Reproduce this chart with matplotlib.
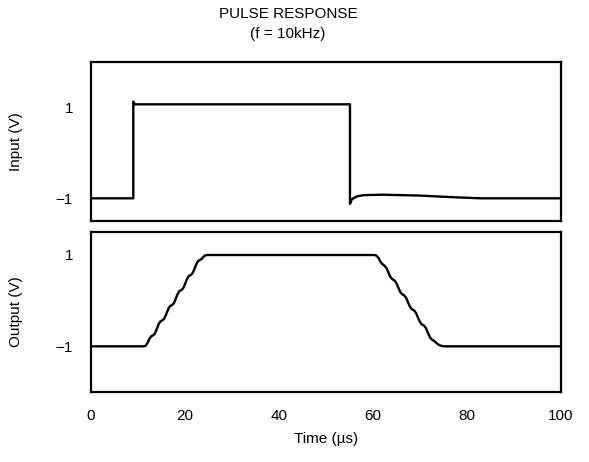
import matplotlib.pyplot as plt

plt.rcParams['font.family'] = ['Liberation Sans', 'DejaVu Sans']

# input pulse (time in us, volts)
t_in = [0, 9.0, 9.0, 9.3, 55.1, 55.1, 55.5, 56.5, 58, 62, 70, 78, 83, 100]
v_in = [-1, -1, 1.13, 1.07, 1.07, -1.12, -1.02, -0.96, -0.93, -0.92, -0.94, -0.98, -1.0, -1.0]

# output response
t_out = [0, 11.0, 11.6, 12.0, 12.4, 12.8, 13.2, 13.6, 14.0, 14.4, 14.8, 15.2, 15.6,
         16.0, 16.4, 16.8, 17.2, 17.6, 18.0, 18.4, 18.8, 19.2, 19.6, 20.0, 20.4,
         20.8, 21.2, 21.6, 22.0, 22.4, 22.8, 23.2, 23.6, 24.0, 24.4, 24.9,
         60.2, 60.7, 61.2, 61.6, 62.0, 62.4, 62.9, 63.3, 63.7, 64.1, 64.6, 65.0,
         65.4, 65.8, 66.2, 66.7, 67.1, 67.5, 67.9, 68.3, 68.8, 69.2, 69.6, 70.0,
         70.4, 70.9, 71.3, 71.7, 72.1, 72.5, 73.0, 73.4, 73.9, 74.5, 75.3, 100]
v_out = [-1.0, -1.0, -0.99, -0.93, -0.84, -0.78, -0.76, -0.72, -0.62, -0.51, -0.45, -0.43, -0.39,
         -0.30, -0.19, -0.12, -0.10, -0.06, 0.03, 0.14, 0.21, 0.23, 0.27, 0.36, 0.47,
         0.54, 0.56, 0.60, 0.69, 0.80, 0.87, 0.89, 0.92, 0.97, 0.995, 1.0,
         1.0, 0.99, 0.93, 0.85, 0.80, 0.77, 0.71, 0.61, 0.52, 0.47, 0.44, 0.38,
         0.28, 0.19, 0.14, 0.11, 0.05, -0.05, -0.14, -0.19, -0.22, -0.28, -0.38, -0.47,
         -0.52, -0.55, -0.61, -0.71, -0.80, -0.85, -0.88, -0.92, -0.96, -0.99, -1.0, -1.0]

xticks = [0, 20, 40, 60, 80, 100]
yticks = [-1, 1]
ytick_labels = ['\u22121', '1']

fig = plt.figure(figsize=(5.89, 4.62), dpi=100)
ax1 = fig.add_axes([0.1545, 0.5216, 0.798, 0.344])
ax2 = fig.add_axes([0.1545, 0.1515, 0.798, 0.346])

ax1.plot(t_in, v_in, color='black', lw=1.7)
ax2.plot(t_out, v_out, color='black', lw=1.7)

ax1.set_ylim(-1.5, 2.0)
ax2.set_ylim(-2.0, 1.5)
for ax in (ax1, ax2):
    ax.set_xlim(0, 100)
    ax.set_yticks(yticks)
    ax.set_yticklabels(ytick_labels)
    ax.tick_params(length=0, labelsize=11, pad=13)
    for s in ax.spines.values():
        s.set_linewidth(1.6)

ax1.set_xticks([])
ax2.set_xticks(xticks)
ax2.tick_params(axis='x', pad=12)
ax2.set_xlabel('Time (\u00b5s)', fontsize=11, labelpad=7)

fig.text(16 / 589, 1 - 142 / 462, 'Input (V)', rotation=90,
         ha='center', va='center', fontsize=11)
fig.text(16 / 589, 1 - 312 / 462, 'Output (V)', rotation=90,
         ha='center', va='center', fontsize=11)
fig.text(288 / 589, 1 - 14 / 462, 'PULSE RESPONSE', ha='center', va='center', fontsize=11)
fig.text(288 / 589, 1 - 34 / 462, '(f = 10kHz)', ha='center', va='center', fontsize=11)

fig.savefig('out.png', dpi=100)
